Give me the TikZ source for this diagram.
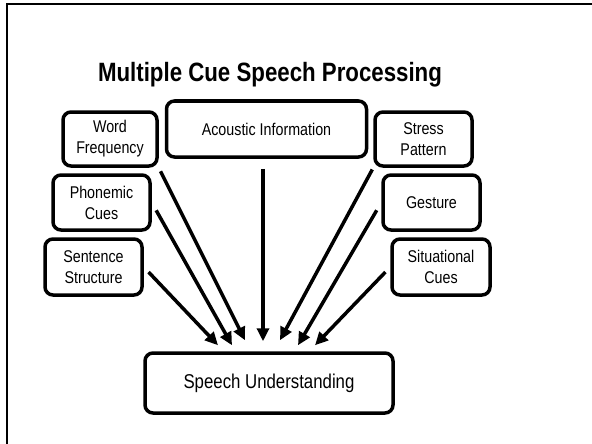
\documentclass[tikz,border=0pt]{standalone}
\usepackage{fontspec}
\setmainfont{Liberation Sans}[FakeStretch=0.84]
\usepackage{tikz}
\usetikzlibrary{calc,positioning,arrows.meta}

\begin{document}
\begin{tikzpicture}[x=1pt, y=-1pt, align=center,
        cuebox/.style={draw, line width=3.5pt, rounded corners=8pt, inner sep=0pt, font=\fontsize{17}{21}\selectfont},
        cue/.style={line width=3.5pt, -{Triangle[length=13pt, width=12pt]}}]
        \useasboundingbox (0,0) rectangle (592,444);

        % frame
        \draw[line width=2pt] (7,444) -- (7,4) -- (592,4);

        \node [font=\fontsize{26.5}{30}\selectfont\bfseries] (title) at (270,75) {Multiple Cue Speech Processing};

        \node [cuebox, minimum width=94pt, minimum height=54pt] (wordfreq) at (110,139) {Word\\Frequency};
        \node [cuebox, minimum width=200pt, minimum height=56pt] (acoustic) at (266.5,129) {Acoustic Information};
        \node [cuebox, minimum width=97pt, minimum height=54pt] (stress) at (423.5,139) {Stress\\Pattern};
        \node [cuebox, minimum width=97pt, minimum height=55pt] (phonemic) at (101.5,202.5) {Phonemic\\Cues};
        \node [cuebox, minimum width=97pt, minimum height=55pt] (gesture) at (431.5,202.5) {Gesture};
        \node [cuebox, minimum width=97pt, minimum height=56pt] (sentence) at (93.5,267) {Sentence\\Structure};
        \node [cuebox, minimum width=98pt, minimum height=56pt] (situational) at (441,267) {Situational\\Cues};

        \node [cuebox, minimum width=248pt, minimum height=60pt, font=\fontsize{20}{24}\selectfont] (speech) at (269,383) {Speech Understanding};

        % arrow tips above the target
        \coordinate (in1) at ($(speech.north)+(-24,-11)$);
        \coordinate (in2) at ($(speech.north)+(-6,-10)$);
        \coordinate (in3) at ($(speech.north)+(11,-11)$);
        \coordinate (in4) at ($(speech.north)+(-37,-6)$);
        \coordinate (in5) at ($(speech.north)+(29,-6)$);
        \coordinate (in6) at ($(speech.north)+(-51,-6)$);
        \coordinate (in7) at ($(speech.north)+(46,-6)$);

        \draw[cue, shorten <=4pt] (wordfreq.south east) -- (in1);
        \draw[cue, shorten <=10pt] (acoustic.south -| in2) -- (in2);
        \draw[cue, shorten <=2pt] (stress.south west) -- (in3);
        \draw[cue, shorten <=9pt] (phonemic.east) -- (in4);
        \draw[cue, shorten <=9pt] (gesture.west) -- (in5);
        \draw[cue, shorten <=7pt] (sentence.east) -- (in6);
        \draw[cue, shorten <=7pt] (situational.west) -- (in7);
\end{tikzpicture}
\end{document}
